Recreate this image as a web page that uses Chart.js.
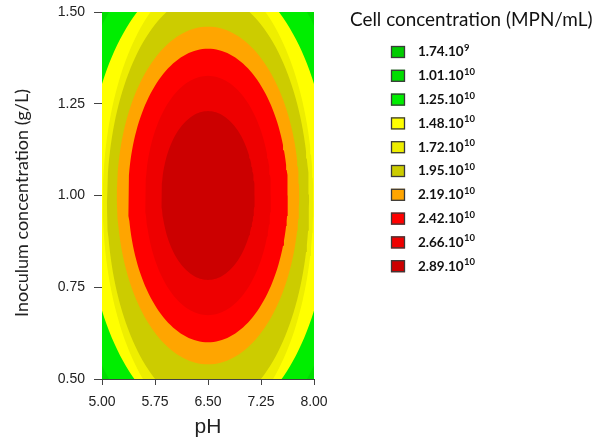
<!DOCTYPE html>
<html>
<head>
<meta charset="utf-8">
<script src="https://cdn.jsdelivr.net/npm/chart.js@4.4.0/dist/chart.umd.min.js"></script>
<style>
  html, body { margin: 0; padding: 0; background: #fff; }
  #wrap { width: 602px; height: 440px; }
</style>
</head>
<body>
<div id="wrap"><canvas id="chart" width="602" height="440"></canvas></div>
<script>
// legend levels (MPN/mL), written as mantissa . 10^exponent
const levelMantissa = ['1.74', '1.01', '1.25', '1.48', '1.72', '1.95', '2.19', '2.42', '2.66', '2.89'];
const levelExponent = ['9', '10', '10', '10', '10', '10', '10', '10', '10', '10'];
const levelColors = ['#00cc00', '#00dd00', '#00ee00', '#ffff00', '#eeee00', '#cccc00', '#ffa500', '#ff0000', '#ee0000', '#cc0000'];

// contour outlines for levels 1.01.10^10 .. 2.89.10^10
// centre pH / g/L and half widths in pH units and g/L
const centrePH = [6.5, 6.5, 6.5, 6.5, 6.5, 6.5, 6.5, 6.5, 6.5];
const centreConc = [1.0, 1.0, 0.995, 0.984, 0.983, 1.0, 1.0, 1.0, 1.0];
const halfPH = [2.6, 2.0, 1.73, 1.49, 1.43, 1.29, 1.13, 0.89, 0.66];
const halfConc = [0.9, 0.70, 0.62, 0.6155, 0.567, 0.46, 0.40, 0.326, 0.23];

const xTicks = [5.00, 5.75, 6.50, 7.25, 8.00];
const yTicks = [0.50, 0.75, 1.00, 1.25, 1.50];

function outline(i) {
    const pts = [];
    for (let k = 0; k <= 180; k++) {
        const t = k / 180 * 2 * Math.PI;
        pts.push({ x: centrePH[i] + halfPH[i] * Math.cos(t), y: centreConc[i] + halfConc[i] * Math.sin(t) });
    }
    return pts;
}

const datasets = halfPH.map((h, i) => ({
    label: levelMantissa[i + 1],
    data: outline(i),
    showLine: true,
    fill: 'shape',
    backgroundColor: levelColors[i + 1],
    borderWidth: 0,
    pointRadius: 0,
    tension: 0,
    order: halfPH.length - i
}));

// lowest level fills whatever the contours leave
const plotBackground = {
    id: 'plotBackground',
    beforeDatasetsDraw(chart) {
        const a = chart.chartArea;
        chart.ctx.save();
        chart.ctx.fillStyle = levelColors[0];
        chart.ctx.fillRect(a.left, a.top, a.right - a.left, a.bottom - a.top);
        chart.ctx.restore();
    }
};

const contourLegend = {
    id: 'contourLegend',
    afterDraw(chart) {
        const ctx = chart.ctx;
        ctx.save();
        ctx.textBaseline = 'middle';
        ctx.textAlign = 'left';
        ctx.fillStyle = '#111';
        const title = 'Cell concentration (MPN/mL)';
        ctx.font = '17px Lato';
        const fit = 17 * 242 / ctx.measureText(title).width;
        ctx.font = fit.toFixed(1) + 'px Lato';
        ctx.fillText(title, 350, 20);

        levelMantissa.forEach((m, i) => {
            const y = 52 + i * 23.8;
            ctx.fillStyle = levelColors[i];
            ctx.fillRect(391, y - 6, 14, 12);
            ctx.strokeStyle = '#3a3a3a';
            ctx.lineWidth = 1.3;
            ctx.strokeRect(391.5, y - 5.5, 13, 11);
            ctx.fillStyle = '#111';
            ctx.font = 'bold 13.5px Lato';
            const base = m + '.10';
            ctx.fillText(base, 418, y);
            const w = ctx.measureText(base).width;
            ctx.font = 'bold 9.5px Lato';
            ctx.fillText(levelExponent[i], 418 + w + 0.5, y - 4);
        });

        // y axis title, sits a little below the plot centre in the original
        ctx.translate(22, 203);
        ctx.rotate(-Math.PI / 2);
        ctx.textAlign = 'center';
        ctx.fillStyle = '#222';
        ctx.font = '18px Lato';
        ctx.fillText('Inoculum concentration (g/L)', 0, 0);
        ctx.restore();
    }
};

const ctx = document.getElementById('chart').getContext('2d');
const chart = new Chart(ctx, {
    type: 'scatter',
    data: { datasets: datasets },
    plugins: [plotBackground, contourLegend],
    options: {
        responsive: false,
        animation: false,
        layout: { padding: { left: 0, top: 12, right: 288, bottom: 0 } },
        plugins: {
            legend: { display: false },
            tooltip: { enabled: false }
        },
        scales: {
            x: {
                type: 'linear',
                min: 5,
                max: 8,
                afterBuildTicks: s => { s.ticks = xTicks.map(v => ({ value: v })); },
                afterFit: s => { s.height = 61; s.paddingLeft = 0; s.paddingRight = 0; },
                ticks: {
                    callback: v => v.toFixed(2),
                    font: { family: 'Liberation Sans, Arial', size: 14 },
                    color: '#222',
                    padding: 9
                },
                grid: { drawOnChartArea: false, drawTicks: true, tickLength: 6, color: '#444' },
                border: { color: '#444', width: 1 },
                title: {
                    display: true,
                    text: 'pH',
                    font: { family: 'Liberation Sans, Arial', size: 21 },
                    color: '#222',
                    padding: { top: 0, bottom: 0 }
                }
            },
            y: {
                type: 'linear',
                min: 0.5,
                max: 1.5,
                afterBuildTicks: s => { s.ticks = yTicks.map(v => ({ value: v })); },
                afterFit: s => { s.width = 102; s.paddingTop = 0; s.paddingBottom = 0; },
                ticks: {
                    callback: v => v.toFixed(2),
                    font: { family: 'Liberation Sans, Arial', size: 14 },
                    color: '#222',
                    padding: 9
                },
                grid: { drawOnChartArea: false, drawTicks: true, tickLength: 8, color: '#444' },
                border: { color: '#444', width: 1 }
            }
        }
    }
});
</script>
</body>
</html>
